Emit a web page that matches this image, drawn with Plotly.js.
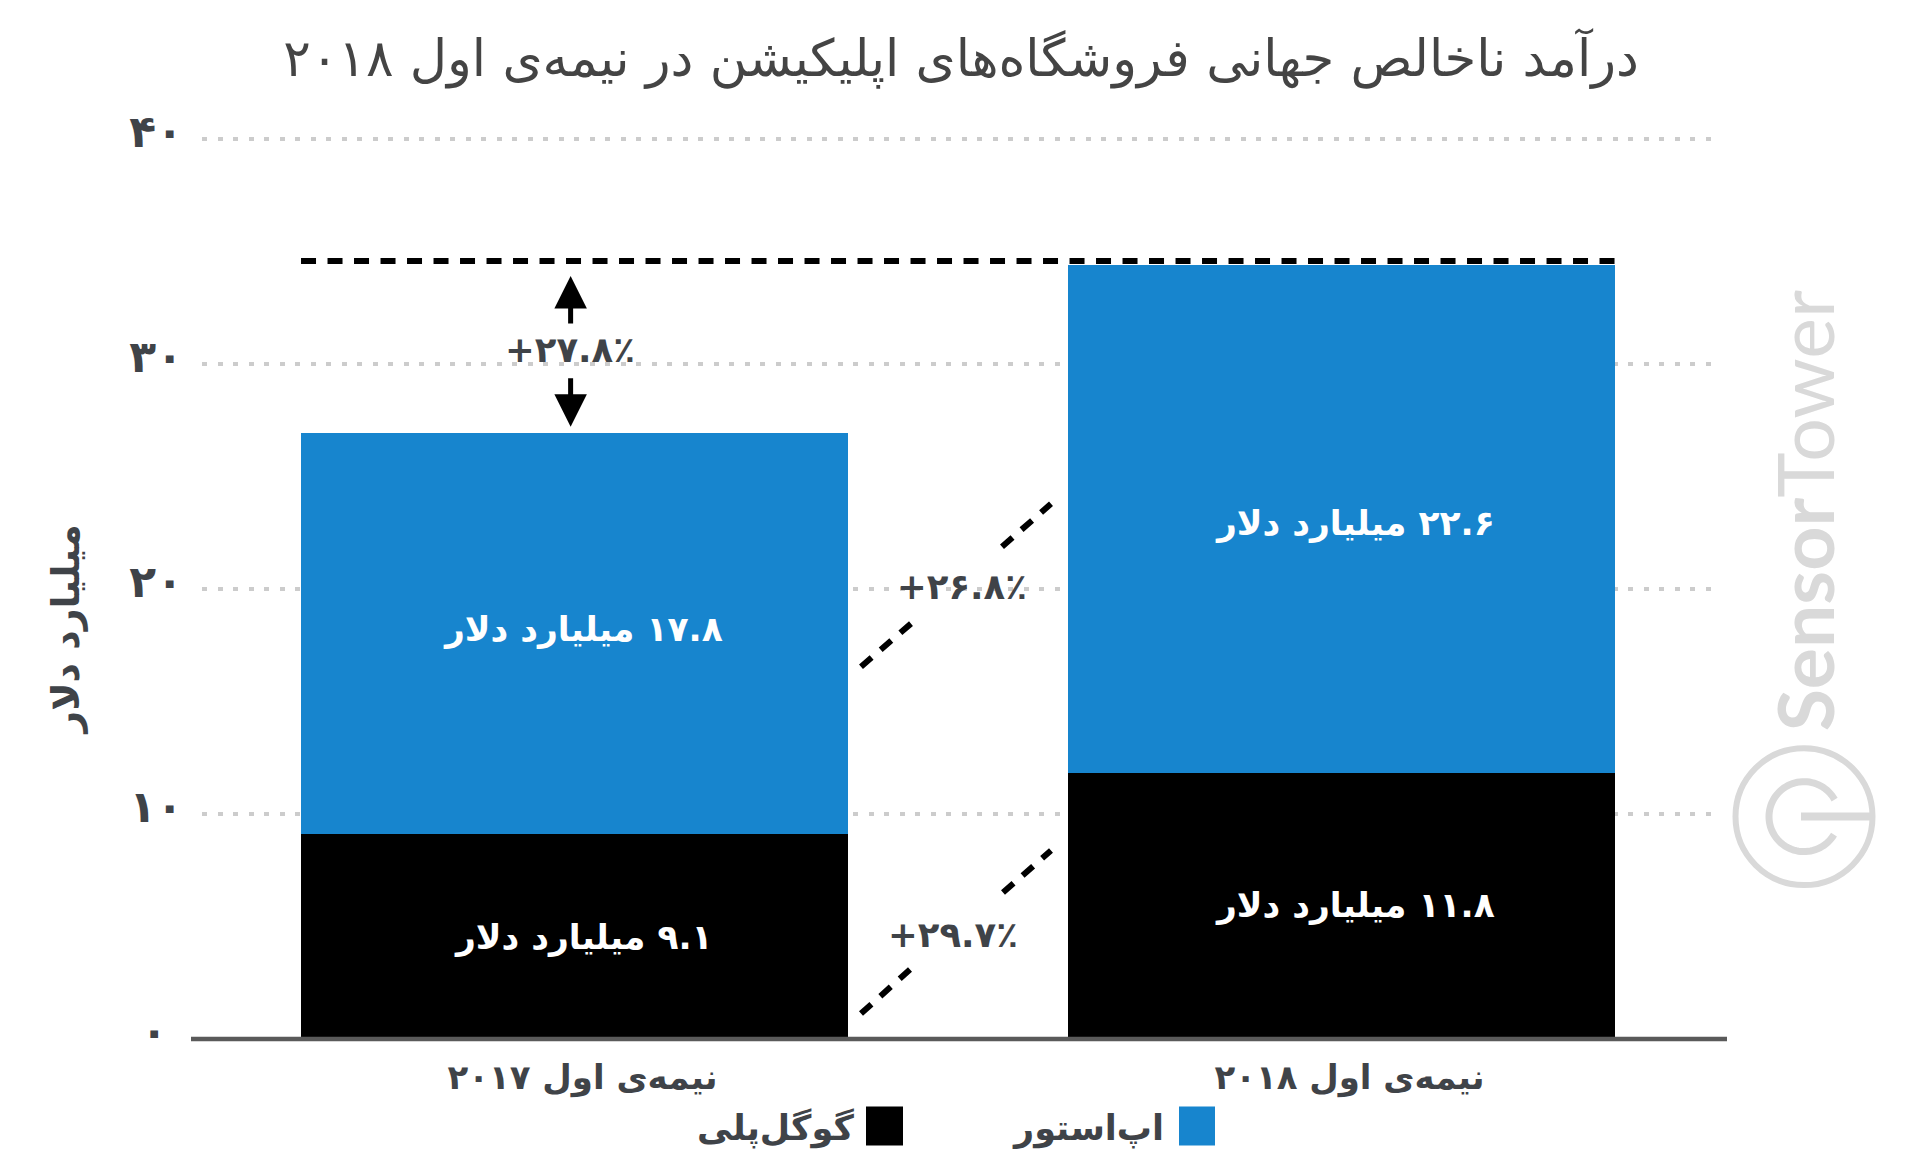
<!DOCTYPE html>
<html><head><meta charset="utf-8">
<script src="https://cdn.plot.ly/plotly-3.0.1.min.js"></script>
<style>html,body{margin:0;padding:0;background:#fff}</style></head>
<body><div id="chart" style="width:1920px;height:1175px"></div>
<script>
const RLM = '\u200F';
const periods = ['نیمه‌ی اول ۲۰۱۷', 'نیمه‌ی اول ۲۰۱۸'];
const googlePlay = [9.1, 11.8];
const appStore = [17.8, 22.6];
const googleLabels = ['۹.۱ میلیارد دلار', '۱۱.۸ میلیارد دلار'];
const appLabels = ['۱۷.۸ میلیارد دلار', '۲۲.۶ میلیارد دلار'];
const yTicks = [0, 10, 20, 30, 40];
const yTickText = ['۰\u00A0', '۱۰', '۲۰', '۳۰', '۴۰'];
const titleText = 'درآمد ناخالص جهانی فروشگاه‌های اپلیکیشن در نیمه‌ی اول ۲۰۱۸';
const yTitle = 'میلیارد دلار';
const legendPlay = 'گوگل‌پلی';
const legendApp = 'اپ‌استور';
const growthTotal = '+۲۷.۸٪';
const growthApp = '+۲۶.۸٪';
const growthPlay = '+۲۹.۷٪';

const FONT = '"DejaVu Sans", sans-serif';
const BLUE = '#1785ce', INK = '#3f4348', MARK = '#d9d9d9';
const BW = 0.7132;
const AXIS_Y = 1039.5, UNIT = 22.525, Y_MAX = 40.2;
const TOP = AXIS_Y - Y_MAX * UNIT;
const px = p => (p - 574.5) / 767;
const py = p => (AXIS_Y - p) / UNIT;
const X = p => (p - 202) / 1512;
const Y = p => (AXIS_Y - p) / (Y_MAX * UNIT);

const traces = [
  {type:'bar', name:legendPlay, x:periods, y:googlePlay, marker:{color:'#000'}, hoverinfo:'skip'},
  {type:'bar', name:legendApp, x:periods, y:appStore, marker:{color:BLUE}, hoverinfo:'skip'}
];

const txt = (text, x, y, size, color, extra) => Object.assign({
  text, x:X(x), y:Y(y), xref:'paper', yref:'paper', showarrow:false, xanchor:'center', yanchor:'middle',
  font:{family:FONT, size, color, weight:700}
}, extra || {});

const annotations = [];
periods.forEach((c, i) => {
  annotations.push({x:i, y:googlePlay[i]/2, xref:'x', yref:'y', text:RLM+googleLabels[i], showarrow:false, xshift:i?14:9, yshift:i?1:0,
    font:{family:FONT,size:34.5,color:'#fff',weight:700}});
  annotations.push({x:i, y:googlePlay[i]+appStore[i]/2, xref:'x', yref:'y', text:RLM+appLabels[i], showarrow:false, xshift:i?14:8, yshift:i?-4:5,
    font:{family:FONT,size:34.5,color:'#fff',weight:700}});
});
annotations.push(
  txt(yTitle, 66, 630, 38, INK, {textangle:-90}),
  txt(growthTotal, 570, 350, 35.5, INK),
  txt(growthApp, 962, 587, 35.5, INK),
  txt(growthPlay, 953, 935, 35.5, INK),
  txt(legendPlay, 775, 1129, 35, INK),
  txt(legendApp, 1088, 1129, 35, INK),
  txt('<b>Sensor</b>Tower', 1803.5, 511, 77, MARK, {textangle:-90, font:{family:'Lato, sans-serif',size:77,color:MARK}}),
  {x:px(570.6), y:py(276), xref:'x', yref:'y', ax:0, ay:49, axref:'pixel', ayref:'pixel', text:'', showarrow:true, arrowhead:2, arrowsize:1.3, arrowwidth:5, arrowcolor:'#000'},
  {x:px(570.6), y:py(427), xref:'x', yref:'y', ax:0, ay:-50, axref:'pixel', ayref:'pixel', text:'', showarrow:true, arrowhead:2, arrowsize:1.3, arrowwidth:5, arrowcolor:'#000'}
);

const barMask = (a,b) => ({type:'rect', layer:'below', xref:'x', yref:'paper', x0:a, x1:b, y0:0, y1:1, fillcolor:'#fff', line:{width:0}});
const gridGap = (a,b,v) => ({type:'rect', layer:'below', xref:'paper', yref:'y', x0:X(a), x1:X(b), y0:v-0.25, y1:v+0.25, fillcolor:'#fff', line:{width:0}});
const dash = {color:'#000', width:6, dash:'15px,11.5px'};
const dashDiag = {color:'#000', width:6, dash:'14px,12px'};
const seg = (a,b,c,d) => ({type:'line', xref:'x', yref:'y', x0:px(a), y0:py(b), x1:px(c), y1:py(d), line:dashDiag});

// logo pieces
const poly = (pts) => 'M ' + pts.map(p => X(p[0]) + ' ' + Y(p[1])).join(' L ');
const LX = 1804, LY = 817;
const arcPts = [];
for (let a = 29; a <= 331; a += 4) arcPts.push([LX + 35*Math.cos(a*Math.PI/180), LY - 35*Math.sin(a*Math.PI/180)]);
const shapes = [
  barMask(-BW/2-0.006, BW/2+0.012), barMask(1-BW/2-0.012, 1+BW/2+0.004),
  gridGap(493, 649, 30), gridGap(880, 1037, 20),
  {type:'line', xref:'paper', yref:'paper', x0:X(191), x1:X(1727), y0:0, y1:0, line:{color:'#5a5a5a', width:4.5}},
  {type:'line', xref:'x', yref:'y', x0:-BW/2, x1:1+BW/2, y0:py(261), y1:py(261), line:dash},
  seg(861,667,912,623), seg(1002,547,1051,504),
  seg(861,1014,910,970), seg(1003,893,1051,851),
  {type:'rect', xref:'paper', yref:'paper', x0:X(866), x1:X(903), y0:Y(1146), y1:Y(1107), fillcolor:'#000', line:{width:0}},
  {type:'rect', xref:'paper', yref:'paper', x0:X(1179), x1:X(1215), y0:Y(1146), y1:Y(1107), fillcolor:BLUE, line:{width:0}},
  {type:'circle', xref:'paper', yref:'paper', x0:X(LX-68.5), x1:X(LX+68.5), y0:Y(LY+68.5), y1:Y(LY-68.5), line:{color:MARK, width:6}},
  {type:'path', xref:'paper', yref:'paper', path:poly(arcPts), line:{color:MARK, width:7}},
  {type:'line', xref:'paper', yref:'paper', x0:X(LX-3), x1:X(LX+66), y0:Y(LY), y1:Y(LY), line:{color:MARK, width:8}}
];

const layout = {
  width:1920, height:1175, autosize:false, paper_bgcolor:'#fff', plot_bgcolor:'#fff',
  barmode:'stack', bargap:1-BW, showlegend:false,
  margin:{l:202, r:206, t:TOP, b:1175-AXIS_Y, pad:0},
  font:{family:FONT, color:INK},
  title:{text:titleText, x:0.502, xref:'paper', xanchor:'center', y:0.951, yanchor:'middle', font:{family:FONT, size:51.3, color:'#444'}},
  xaxis:{type:'category', categoryorder:'array', categoryarray:periods, range:[-0.4857,1.4857], showgrid:false, showline:false, zeroline:false,
    ticks:'', ticklabelshift:8, ticklabelstandoff:15, tickfont:{family:FONT, size:34, color:INK, weight:700}, automargin:false},
  yaxis:{range:[0,Y_MAX], tickvals:yTicks, ticktext:yTickText, showgrid:true, gridcolor:'#cccccc', gridwidth:4, griddash:'5px,10.5px', showline:false, zeroline:false,
    ticks:'', ticklabelstandoff:18, ticklabelshift:-7, tickfont:{family:FONT, size:44, color:INK, weight:700}, automargin:false},
  annotations, shapes
};
Plotly.newPlot('chart', traces, layout, {displayModeBar:false, responsive:false});
</script></body></html>
